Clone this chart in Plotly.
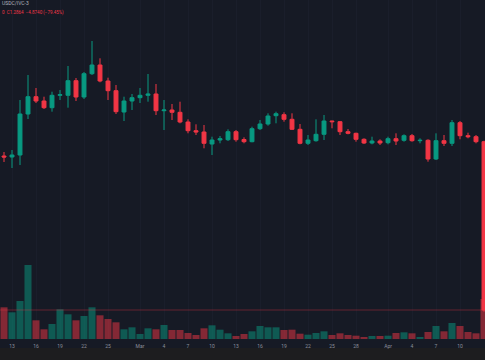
import pandas as pd
import plotly.graph_objects as go

dates = pd.date_range("2023-02-12", "2023-04-13", freq="D")

opens = [5.716, 5.687, 5.745, 6.934, 7.436, 7.311, 7.117, 7.476, 7.476, 7.900, 7.427, 8.103, 8.355, 7.891, 7.610, 6.992, 7.311,
         7.407, 7.476, 7.514, 7.030, 7.05, 6.983, 6.702, 6.450, 6.412, 6.064, 6.18, 6.189, 6.421, 6.194, 6.131, 6.508, 6.644, 6.885, 6.914, 6.780, 6.49, 6.084, 6.160, 6.345, 6.731, 6.711, 6.421, 6.374, 6.200, 6.093, 6.151,
         6.102, 6.218, 6.171, 6.305, 6.160, 6.171, 5.629, 6.160, 6.084, 6.682, 6.305, 6.276, 6.131]
highs = [5.832, 5.89, 7.34, 8.065, 7.688, 7.436, 7.581, 7.63, 8.326, 7.978, 8.152, 9.051, 8.549, 7.987, 7.775, 7.436, 7.514,
         7.688, 8.094, 7.804, 7.34, 7.224, 7.291, 6.780, 6.635, 6.615, 6.276, 6.296, 6.49, 6.47, 6.258, 6.566, 6.76, 6.954, 7.001, 6.983, 6.954, 6.644, 6.325, 6.780, 6.905, 6.740, 6.731, 6.499, 6.392, 6.229, 6.276, 6.200,
         6.276, 6.374, 6.345, 6.354, 6.229, 6.200, 6.374, 6.325, 6.76, 6.731, 6.392, 6.325, 6.16]
lows = [5.542, 5.368, 5.455, 6.789, 7.253, 7.079, 7.001, 7.34, 7.117, 7.311, 7.369, 8.065, 7.853, 7.34, 6.934, 6.731, 7.05,
        7.253, 7.291, 6.905, 6.47, 6.76, 6.664, 6.374, 6.325, 5.939, 5.745, 6.084, 6.151, 6.131, 6.084, 6.113, 6.47, 6.595, 6.664, 6.711, 6.47, 6.055, 6.035, 6.131, 6.18, 6.519, 6.325, 6.345, 6.131, 6.064, 6.055, 6.035,
        6.055, 6.035, 6.131, 6.131, 6.084, 5.551, 5.6, 6.006, 6.006, 6.200, 6.229, 6.084, 1.20]
closes = [5.687, 5.745, 6.934, 7.436, 7.311, 7.117, 7.476, 7.494, 7.900, 7.427, 8.103, 8.355, 7.891, 7.610, 7.001, 7.311, 7.407,
          7.476, 7.514, 7.030, 7.05, 6.983, 6.702, 6.450, 6.412, 6.084, 6.18, 6.218, 6.421, 6.189, 6.131, 6.508, 6.644, 6.876, 6.943, 6.780, 6.49, 6.084, 6.18, 6.345, 6.731, 6.711, 6.421, 6.374, 6.200, 6.093, 6.151, 6.093,
          6.218, 6.151, 6.305, 6.160, 6.171, 5.629, 6.160, 6.084, 6.682, 6.305, 6.276, 6.131, 1.25]
volumes = [792, 667, 950, 1850, 467, 242, 375, 742, 617, 467, 575, 792, 592, 500, 417, 242, 292,
           125, 267, 242, 350, 225, 225, 150, 100, 267, 342, 233, 142, 75, 125, 192, 325, 292, 292, 225, 233, 133, 108, 150, 192, 100, 142, 100, 83, 50, 75, 75,
           83, 150, 167, 142, 50, 175, 325, 192, 400, 325, 175, 142, 1000]

tick_dates = ["2023-02-13", "2023-02-16", "2023-02-19", "2023-02-22", "2023-02-25", "2023-03-01", "2023-03-04",
              "2023-03-07", "2023-03-10", "2023-03-13", "2023-03-16", "2023-03-19", "2023-03-22", "2023-03-25",
              "2023-03-28", "2023-04-01", "2023-04-04", "2023-04-07", "2023-04-10", "2023-04-13"]
tick_labels = ["13", "16", "19", "22", "25", "Mar", "4", "7", "10", "13", "16", "19", "22", "25", "28",
               "Apr", "4", "7", "10", "13"]

BG = "#161a25"
UP = "#089981"
DOWN = "#f23645"
vol_colors = ["rgba(8,153,129,0.5)" if c >= o else "rgba(242,54,69,0.5)" for o, c in zip(opens, closes)]

fig = go.Figure()
fig.add_trace(go.Bar(x=dates, y=volumes, marker=dict(color=vol_colors, line=dict(width=0)),
                     yaxis="y", hoverinfo="skip", showlegend=False))
fig.add_trace(go.Candlestick(x=dates, open=opens, high=highs, low=lows, close=closes, yaxis="y2",
                             increasing=dict(line=dict(color=UP, width=1), fillcolor=UP),
                             decreasing=dict(line=dict(color=DOWN, width=1), fillcolor=DOWN),
                             whiskerwidth=0, showlegend=False))

fig.add_shape(type="line", xref="paper", x0=0, x1=1, yref="y2", y0=closes[-1], y1=closes[-1],
              line=dict(color="rgba(242,54,69,0.35)", width=1))
fig.add_shape(type="rect", xref="paper", x0=0, x1=1, yref="paper", y0=-0.0265, y1=-0.07,
              fillcolor="#1d1d1f", line=dict(width=0), layer="below")

fig.add_annotation(text="USDC/IVC-3", xref="paper", yref="paper", x=0, y=0.99, xanchor="left", yanchor="middle",
                   showarrow=False, font=dict(family="Roboto", size=5, color="#b2b5be"))
fig.add_annotation(text="0  C1.2864  −4.8740 (−79.45%)", xref="paper", yref="paper", x=0, y=0.962,
                   xanchor="left", yanchor="middle", showarrow=False,
                   font=dict(family="Roboto", size=4.5, color=DOWN))

fig.update_layout(
    width=485, height=360,
    margin=dict(l=0, r=0, t=0, b=21),
    paper_bgcolor=BG, plot_bgcolor=BG,
    bargap=0.12,
    showlegend=False,
    xaxis=dict(range=["2023-02-11 12:00", "2023-04-13 03:00"], rangeslider=dict(visible=False),
               tickvals=tick_dates, ticktext=tick_labels, ticks="", showgrid=True, gridcolor="#1a1e2b",
               gridwidth=1, zeroline=False, showline=False, ticklabelstandoff=3,
               tickfont=dict(family="Roboto", size=5, color="#8c909a")),
    yaxis=dict(range=[0, 8475], visible=False, showgrid=False, zeroline=False, fixedrange=True),
    yaxis2=dict(range=[0.409, 10.24], overlaying="y", visible=False, showgrid=False, zeroline=False),
)

fig.write_html("out.html", config={"displayModeBar": False},
               post_script="document.body.style.margin='0';document.body.style.background='#161a25';")
